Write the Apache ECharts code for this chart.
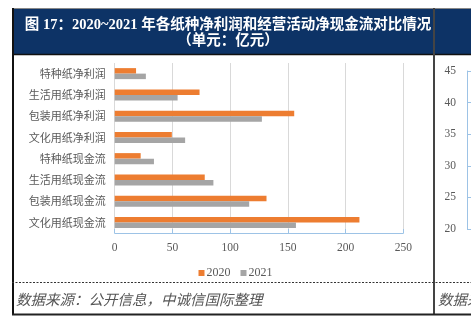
<!DOCTYPE html>
<html><head><meta charset="utf-8">
<script src="https://cdn.jsdelivr.net/npm/echarts@6/dist/echarts.min.js"></script>
<style>html,body{margin:0;padding:0;background:#fff}#c{width:471px;height:327px}</style>
</head><body><div id="c"></div>
<script>
// data (bottom-to-top order for the category axis)
const categories = ['文化用纸现金流','包装用纸现金流','生活用纸现金流','特种纸现金流','文化用纸净利润','包装用纸净利润','生活用纸净利润','特种纸净利润'];
const values2020 = [212, 131.5, 78, 22.5, 49.5, 155.5, 73.5, 18.5];
const values2021 = [157, 116.5, 85.5, 34, 61, 127.5, 54.5, 27];
const seriesNames = ['2020','2021'];
const xTicks = {min:0, max:250, interval:50};
const rightTicks = {min:20, max:45, interval:5};
const titleLine1 = '图 17：2020~2021 年各纸种净利润和经营活动净现金流对比情况';
const titleLine2 = '（单元：亿元）';
const sourceText = '数据来源：公开信息，中诚信国际整理';
const sourceText2 = '数据来源：';

const chart = echarts.init(document.getElementById('c'), null, {renderer:'canvas'});
const axisColor = '#9DC3E6';
const labelColor = '#595959';
const serif = '"Liberation Serif","Noto Sans CJK SC",serif';
const cjk = '"Noto Sans CJK SC","Liberation Sans",sans-serif';
chart.setOption({
  animation:false,
  backgroundColor:'#fff',
  grid:[
    {left:114.7, right:67.7, top:63, bottom:94, containLabel:false},
    {left:467, width:20, top:71, bottom:98, containLabel:false}
  ],
  legend:{
    data:seriesNames, left:'center', top:262, itemWidth:6, itemHeight:6, itemGap:10,
    icon:'rect', textStyle:{fontFamily:serif, fontSize:12, color:labelColor, padding:[0,0,0,-3]},
  },
  xAxis:[
    {type:'value', gridIndex:0, min:xTicks.min, max:xTicks.max, interval:xTicks.interval,
     axisLine:{show:true, lineStyle:{color:axisColor, width:1}},
     axisTick:{show:true, inside:true, length:4, lineStyle:{color:axisColor}},
     splitLine:{show:true, lineStyle:{color:'#D9D9D9', width:1}},
     axisLabel:{fontFamily:serif, fontSize:11.5, color:labelColor, margin:9}},
    {type:'value', gridIndex:1, show:false, min:0, max:1}
  ],
  yAxis:[
    {type:'category', gridIndex:0, data:categories,
     axisLine:{show:false}, axisTick:{show:false},
     axisLabel:{fontFamily:cjk, fontSize:11, color:labelColor, margin:9}},
    {type:'value', gridIndex:1, min:rightTicks.min, max:rightTicks.max, interval:rightTicks.interval,
     axisLine:{show:true, lineStyle:{color:axisColor}},
     axisTick:{show:true, inside:true, length:4, lineStyle:{color:axisColor}},
     splitLine:{show:false},
     axisLabel:{fontFamily:serif, fontSize:11.5, color:labelColor, margin:11}}
  ],
  series:[
    {name:seriesNames[0], type:'bar', xAxisIndex:0, yAxisIndex:0, data:values2020, barWidth:5.5, barGap:'0%',
     itemStyle:{color:'#ED7D31'}},
    {name:seriesNames[1], type:'bar', xAxisIndex:0, yAxisIndex:0, data:values2021, barWidth:5.5, barGap:'0%',
     itemStyle:{color:'#A5A5A5'}}
  ],
  graphic:[
    {type:'rect', shape:{x:12, y:8, width:459, height:46}, style:{fill:'#0D3366'}, z:-1},
    {type:'line', shape:{x1:12, y1:8.5, x2:471, y2:8.5}, style:{stroke:'#888', lineWidth:1}},
    {type:'line', shape:{x1:12, y1:54.5, x2:471, y2:54.5}, style:{stroke:'#111', lineWidth:1.5}},
    {type:'line', shape:{x1:13, y1:8, x2:13, y2:315}, style:{stroke:'#111', lineWidth:2}},
    {type:'line', shape:{x1:434, y1:8, x2:434, y2:315}, style:{stroke:'#444', lineWidth:2}},
    {type:'line', shape:{x1:12, y1:282.5, x2:471, y2:282.5}, style:{stroke:'#333', lineWidth:1, lineDash:[2,1.5]}},
    {type:'line', shape:{x1:12, y1:314.5, x2:471, y2:314.5}, style:{stroke:'#222', lineWidth:2}},
    {type:'text', x:228, y:25, style:{text:titleLine1, fill:'#fff', font:'bold 14.5px '+serif, align:'center', verticalAlign:'middle'}},
    {type:'text', x:228, y:41, style:{text:titleLine2, fill:'#fff', font:'bold 14.5px '+serif, align:'center', verticalAlign:'middle'}},
    {type:'text', x:16, y:299, style:{text:sourceText, fill:'#555', font:'italic 14.5px '+cjk, align:'left', verticalAlign:'middle'}},
    {type:'text', x:438, y:299, style:{text:sourceText2, fill:'#555', font:'italic 14.5px '+cjk, align:'left', verticalAlign:'middle'}}
  ]
});
</script></body></html>
